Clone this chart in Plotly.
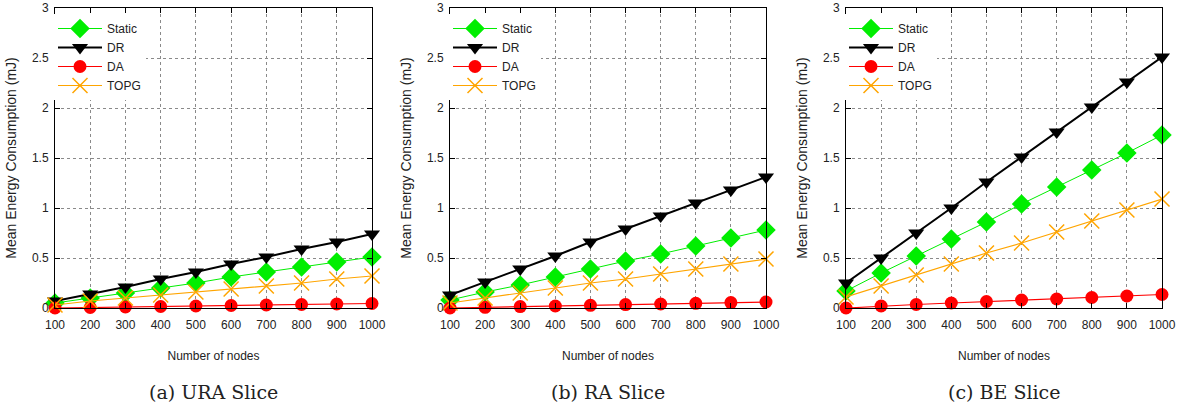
import plotly.graph_objects as go

nodes = [100, 200, 300, 400, 500, 600, 700, 800, 900, 1000]

ura_static = [0.05, 0.10, 0.15, 0.20, 0.25, 0.31, 0.36, 0.41, 0.46, 0.51]
ura_dr = [0.07, 0.14, 0.21, 0.29, 0.36, 0.44, 0.51, 0.59, 0.66, 0.74]
ura_da = [0.0, 0.005, 0.01, 0.015, 0.02, 0.025, 0.03, 0.035, 0.04, 0.045]
ura_topg = [0.03, 0.07, 0.10, 0.13, 0.16, 0.19, 0.22, 0.25, 0.29, 0.32]

ra_static = [0.08, 0.16, 0.23, 0.31, 0.39, 0.47, 0.54, 0.62, 0.70, 0.78]
ra_dr = [0.13, 0.26, 0.39, 0.52, 0.66, 0.79, 0.92, 1.05, 1.18, 1.31]
ra_da = [0.0, 0.007, 0.014, 0.02, 0.027, 0.034, 0.04, 0.047, 0.054, 0.06]
ra_topg = [0.05, 0.10, 0.15, 0.20, 0.25, 0.29, 0.34, 0.39, 0.44, 0.49]

be_static = [0.17, 0.35, 0.52, 0.69, 0.86, 1.04, 1.21, 1.38, 1.55, 1.73]
be_dr = [0.25, 0.50, 0.75, 1.00, 1.26, 1.51, 1.76, 2.01, 2.26, 2.51]
be_da = [0.0, 0.02, 0.035, 0.05, 0.065, 0.08, 0.09, 0.105, 0.12, 0.135]
be_topg = [0.11, 0.22, 0.33, 0.44, 0.55, 0.65, 0.76, 0.87, 0.98, 1.09]

panels = [
    ("(a) URA Slice", ura_static, ura_dr, ura_da, ura_topg),
    ("(b) RA Slice", ra_static, ra_dr, ra_da, ra_topg),
    ("(c) BE Slice", be_static, be_dr, be_da, be_topg),
]

series_names = ["Static", "DR", "DA", "TOPG"]
colors = ["#00ee00", "#000000", "#ff0000", "#ffa500"]
symbols = ["diamond", "triangle-down", "circle", "x-thin-open"]
msizes = [15, 14, 13, 15]
lwidths = [1, 2, 1.2, 1.2]

W, H = 1183, 407
x_px = [(55, 372), (450, 766), (846, 1162)]
y_top, y_bot = 8, 308

fig = go.Figure()
sans = "Liberation Sans, Arial, sans-serif"

for i, (cap, *vals) in enumerate(panels):
    sfx = "" if i == 0 else str(i + 1)
    leg = "legend" if i == 0 else f"legend{i+1}"
    for j, v in enumerate(vals):
        fig.add_trace(go.Scatter(
            x=nodes, y=v, name=series_names[j], mode="lines+markers",
            line=dict(color=colors[j], width=lwidths[j]),
            marker=dict(symbol=symbols[j], size=msizes[j], color=colors[j],
                        line=dict(color=colors[j], width=1.5 if j == 3 else 0)),
            xaxis="x" + sfx, yaxis="y" + sfx, legend=leg, cliponaxis=False,
        ))
    x0, x1 = x_px[i]
    dom = [x0 / W, x1 / W]
    axcommon = dict(showline=True, linecolor="black", linewidth=1, mirror="allticks",
                    ticks="inside", ticklen=5, tickcolor="black", automargin=False,
                    showgrid=True, gridcolor="#8a8a8a", griddash="dot", gridwidth=1,
                    zeroline=False, tickfont=dict(family=sans, size=12, color="#222"))
    fig.update_layout(**{
        "xaxis" + sfx: dict(domain=dom, range=[100, 1000], tickvals=nodes,
                            anchor="y" + sfx,
                            title=dict(text="Number of nodes", font=dict(family=sans, size=12, color="#222"), standoff=20),
                            ticklabelstandoff=6, **axcommon),
        "yaxis" + sfx: dict(domain=[1 - y_bot / H, 1 - y_top / H], range=[0, 3],
                            tickvals=[0, 0.5, 1, 1.5, 2, 2.5, 3], anchor="x" + sfx,
                            title=dict(text="Mean Energy Consumption (mJ)", font=dict(family=sans, size=14, color="#222"), standoff=12),
                            ticklabelstandoff=3, **axcommon),
        leg: dict(x=(x0 - 2) / W, y=1 - (y_top + 6) / H, xanchor="left", yanchor="top",
                  bgcolor="rgba(255,255,255,1)", borderwidth=0,
                  font=dict(family=sans, size=12, color="#222"),
                  tracegroupgap=0, itemwidth=44),
    })
    fig.add_annotation(text=cap, x=(x0 + x1) / 2 / W, y=1 - 392 / H, xref="paper", yref="paper",
                       showarrow=False, xanchor="center", yanchor="middle",
                       font=dict(family="DejaVu Serif, serif", size=19, color="#222"))

fig.update_layout(width=W, height=H, margin=dict(l=0, r=0, t=0, b=0),
                  plot_bgcolor="white", paper_bgcolor="white", showlegend=True)

fig.write_html("out.html")
